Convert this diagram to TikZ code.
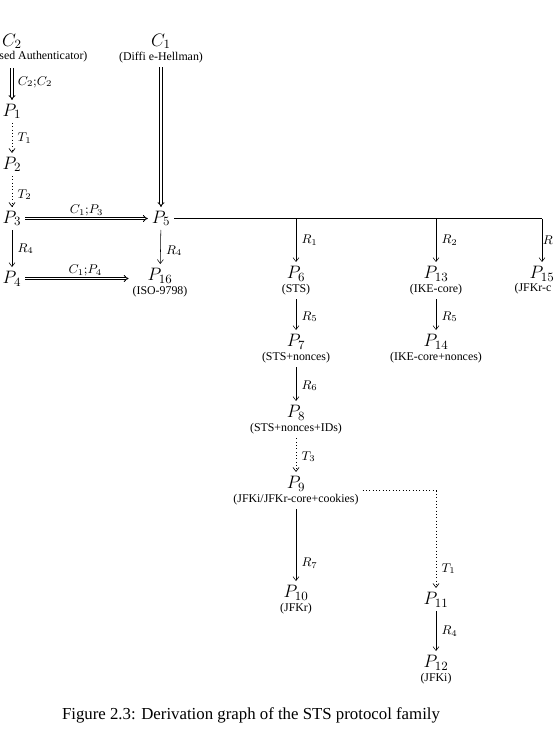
\RequirePackage{fix-cm}
\documentclass[tikz,border=0pt]{standalone}
\usepackage{fontspec}
\newfontfamily\timesfont{Liberation Serif}
\usetikzlibrary{arrows.meta}
\newcommand{\pdesc}[1]{{\timesfont\fontsize{8.9}{10}\selectfont #1}}

\begin{document}
\begin{tikzpicture}[x=0.75pt, y=-0.75pt, >={Straight Barb[length=3pt,width=4.5pt]},
	pn/.style={font=\fontsize{13.5}{11}\selectfont, align=center, anchor=north, inner sep=1pt, outer sep=2pt},
	dsc/.style={font=\timesfont\fontsize{8.9}{10}\selectfont, inner sep=1pt},
	lbl/.style={font=\fontsize{9.5}{11}\selectfont, inner sep=1.5pt},
	lblr/.style={lbl, right, xshift=2.5pt},
	dbl/.style={double, double distance=1.1pt, line width=0.65pt, -{Implies}},
	sgl/.style={->, line width=0.4pt},
	dot/.style={->, dotted, line width=0.5pt}]
	
	\useasboundingbox (0,0) rectangle (554,731);
	
	% Components
	\node[pn] (C2) at (12,30) {$C_2$};
	\node[dsc, anchor=east] (C2d) at (89,57) {sed Authenticator)};
	\node[pn] (C1) at (161,30) {$C_1$\\\pdesc{(Diffi e-Hellman)}};
	
	% Protocols
	\node[pn] (P1) at (12,100) {$P_1$};
	\node[pn] (P2) at (12,153) {$P_2$};
	\node[pn] (P3) at (12,207) {$P_3$};
	\node[pn] (P4) at (12,267) {$P_4$};
	\node[pn] (P5) at (161,207) {$P_5$};
	\node[pn] (P16) at (160,264) {$P_{16}$\\\pdesc{(ISO-9798)}};
	\node[pn] (P6) at (296,262) {$P_6$\\\pdesc{(STS)}};
	\node[pn] (P13) at (436,262) {$P_{13}$\\\pdesc{(IKE-core)}};
	\node[pn] (P15) at (542,262) {$P_{15}$};
	\node[dsc, anchor=west] (P15d) at (513,289) {(JFKr-c};
	\node[pn] (P7) at (296,330) {$P_7$\\\pdesc{(STS+nonces)}};
	\node[pn] (P14) at (436,330) {$P_{14}$\\\pdesc{(IKE-core+nonces)}};
	\node[pn] (P8) at (296,401) {$P_8$\\\pdesc{(STS+nonces+IDs)}};
	\node[pn] (P9) at (296,472) {$P_9$\\\pdesc{(JFKi/JFKr-core+cookies)}};
	\node[pn] (P10) at (296,581) {$P_{10}$\\\pdesc{(JFKr)}};
	\node[pn] (P11) at (436,588) {$P_{11}$};
	\node[pn] (P12) at (436,651) {$P_{12}$\\\pdesc{(JFKi)}};
	
	% Composition steps
	\draw[dbl, shorten <=3pt] (C2d.south -| C2) -- (P1) node[lblr, midway] {$C_2{;}C_2$};
	\draw[dbl] (C1) -- (P5);
	\draw[dbl] (P3) -- (P5) node[lbl, above, midway] {$C_1{;}P_3$};
	\draw[dbl] (P4) -- (P4 -| P16.west) node[lbl, above, pos=0.58] {$C_1{;}P_4$};
	
	% Transformations
	\draw[dot] (P1) -- (P2) node[lblr, midway] {$T_1$};
	\draw[dot] (P2) -- (P3) node[lblr, pos=0.6] {$T_2$};
	\draw[dot] (P8) -- (P9) node[lblr, pos=0.55] {$T_3$};
	\draw[dot] (P9) -| (P11) node[lblr, pos=0.9] {$T_1$};
	
	% Refinements
	\draw[sgl] (P3) -- (P4) node[lblr, midway] {$R_4$};
	\draw[sgl] (P5) -- (P16) node[lblr, pos=0.6] {$R_4$};
	\draw (P5) -- (P5 -| P15);
	\draw[sgl] (P5 -| P6) -- (P6) node[lblr, midway] {$R_1$};
	\draw[sgl] (P5 -| P13) -- (P13) node[lblr, midway] {$R_2$};
	\draw[sgl] (P5 -| P15) -- (P15) node[lbl, right, inner sep=0.5pt, midway] {$R$};
	\draw[sgl] (P6) -- (P7) node[lblr, pos=0.57] {$R_5$};
	\draw[sgl] (P13) -- (P14) node[lblr, pos=0.57] {$R_5$};
	\draw[sgl] (P7) -- (P8) node[lblr, pos=0.55] {$R_6$};
	\draw[sgl] (P9) -- (P10) node[lblr, pos=0.75] {$R_7$};
	\draw[sgl] (P11) -- (P12) node[lblr, midway] {$R_4$};
	
	% Caption
	\node[font=\timesfont\fontsize{12.6}{14}\selectfont, inner sep=0pt] (cap) at (251,715) {Figure 2.3: Derivation graph of the STS protocol family};
\end{tikzpicture}
\end{document}
